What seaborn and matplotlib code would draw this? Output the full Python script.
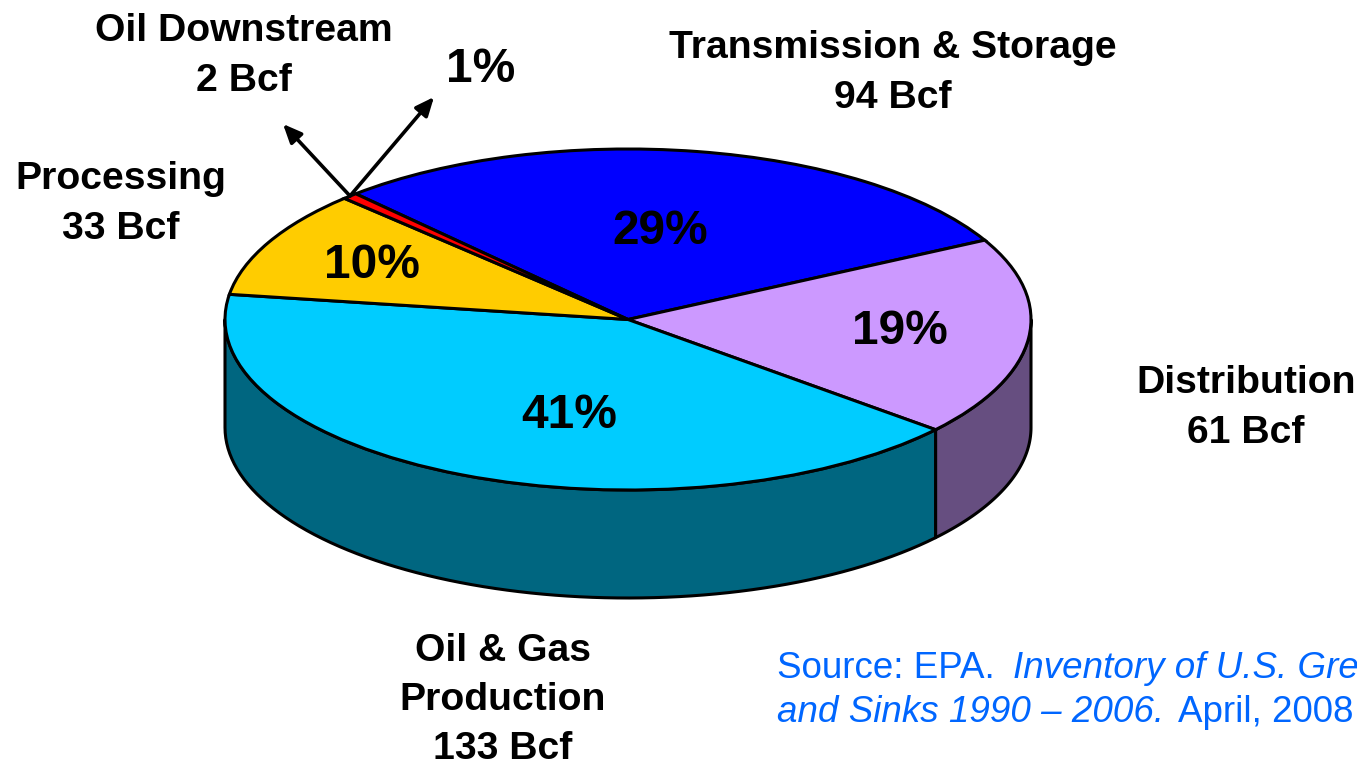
import numpy as np
import matplotlib
matplotlib.use("Agg")
import matplotlib.pyplot as plt
import seaborn as sns

W, H = 1357, 765

segments = ["Transmission & Storage", "Distribution", "Oil & Gas Production",
            "Processing", "Oil Downstream"]
bcf = [94, 61, 133, 33, 2]
top_colors = ["#0000FF", "#CC99FF", "#00CCFF", "#FFCC00", "#FF0000"]
side_colors = ["#000080", "#664E80", "#006680", "#806600", "#800000"]

# pie geometry in pixels of the reference
CX, CY = 628, 319.5
RX, RY = 403, 170.5
DEPTH = 108
START = 132.5

sns.set_theme(style="white")
plt.rcParams["font.family"] = ["Liberation Sans", "DejaVu Sans"]


def px(x, y):
    # reference pixel -> figure fraction
    return x / W, 1 - y / H


fig = plt.figure(figsize=(W / 100, H / 100), dpi=100)
ax = fig.add_axes([0, 0, 1, 1])

# side wall, only the front half of the pie shows
depth = DEPTH / RY
angle = START
for value, color in zip(bcf, side_colors):
    sweep = value / sum(bcf) * 360
    lo, hi = angle - sweep, angle
    angle = lo
    lo2, hi2 = max(lo, -180), min(hi, 0)
    if lo2 >= hi2:
        continue
    t = np.radians(np.linspace(hi2, lo2, 80))
    xs = np.cos(t)
    ys = np.sin(t)
    ax.fill(np.r_[xs, xs[::-1]], np.r_[ys, ys[::-1] - depth],
            facecolor=color, edgecolor="black", lw=2.2, joinstyle="round")

ax.pie(bcf, colors=top_colors, startangle=START, counterclock=False, frame=True,
       wedgeprops={"edgecolor": "black", "linewidth": 2.2})

ax.set_aspect("auto")
ax.set_xlim(-CX / RX, (W - CX) / RX)
ax.set_ylim(-(H - CY) / RY, CY / RY)
ax.axis("off")

# percent labels
pct_pos = [(660, 232), (900, 332), (569, 416), (372, 266), (481, 70)]
for value, (x, y) in zip(bcf, pct_pos):
    fx, fy = px(x, y)
    fig.text(fx, fy, f"{round(value / sum(bcf) * 100)}%", ha="center", va="center",
             fontsize=34.5, fontweight="bold", color="black")

# segment labels
labels = [
    (893, 73, "Transmission & Storage\n94 Bcf"),
    (1246, 408, "Distribution\n61 Bcf"),
    (503, 700, "Oil & Gas\nProduction\n133 Bcf"),
    (121, 204, "Processing\n33 Bcf"),
    (244, 56, "Oil Downstream\n2 Bcf"),
]
for x, y, text in labels:
    fx, fy = px(x, y)
    fig.text(fx, fy, text, ha="center", va="center", fontsize=28.2, fontweight="bold",
             color="black", linespacing=1.48)

# arrows from the thin slice
for tip in [(434, 97), (283, 124)]:
    ax.annotate("", xy=px(*tip), xytext=px(350, 196), xycoords="figure fraction",
                textcoords="figure fraction",
                arrowprops=dict(arrowstyle="-|>,head_length=0.8,head_width=0.35",
                                mutation_scale=14, color="black", lw=2.6,
                                shrinkA=0, shrinkB=0))

# source note, roman and italic runs
source_parts = [
    (777, 668, "Source: EPA.", "normal"),
    (1013, 668, "Inventory of U.S. Gre", "italic"),
    (777, 712, "and Sinks 1990 – 2006.", "italic"),
    (1178, 712, "April, 2008", "normal"),
]
for x, y, text, style in source_parts:
    fx, fy = px(x, y)
    fig.text(fx, fy, text, ha="left", va="center", fontsize=26.5, style=style, color="#0066FF")

fig.savefig("out.png", dpi=100)
